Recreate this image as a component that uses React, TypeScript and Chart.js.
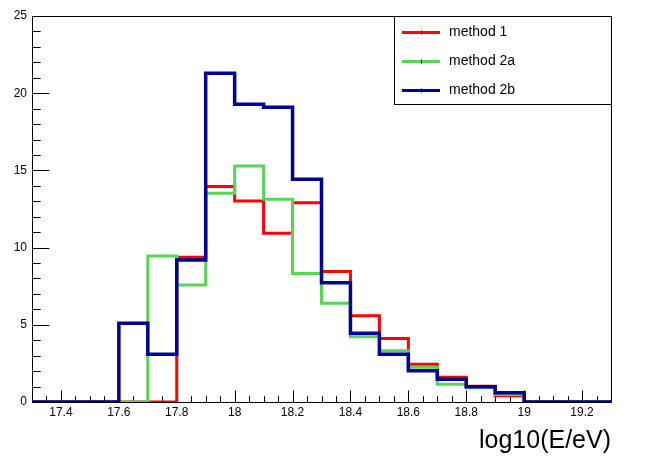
import React, { useEffect, useRef } from 'react';
import { Chart, registerables } from 'chart.js';

Chart.register(...registerables);

// Bin edges of the histograms (log10(E/eV))
const binEdges = [17.3, 17.4, 17.5, 17.6, 17.7, 17.8, 17.9, 18.0, 18.1, 18.2, 18.3, 18.4, 18.5, 18.6, 18.7, 18.8, 18.9, 19.0, 19.1, 19.2, 19.3];

// Bin contents (one per bin, 20 bins)
const method1 = [0, 0, 0, 0, 0, 9.37, 13.95, 13.02, 10.93, 12.91, 8.46, 5.59, 4.12, 2.44, 1.6, 1.02, 0.41, 0, 0, 0];
const method2a = [0, 0, 0, 0, 9.46, 7.58, 13.52, 15.28, 13.13, 8.33, 6.39, 4.23, 3.32, 2.25, 1.15, 0.93, 0.48, 0, 0, 0];
const method2b = [0, 0, 0, 5.1, 3.09, 9.2, 21.29, 19.28, 19.09, 14.42, 7.73, 4.45, 3.09, 2.03, 1.47, 0.99, 0.6, 0, 0, 0];

const seriesLabels = ['method 1', 'method 2a', 'method 2b'];
const seriesColors = ['#ff0000', '#59d454', '#000099'];

const xTickValues = [17.4, 17.6, 17.8, 18, 18.2, 18.4, 18.6, 18.8, 19, 19.2];
const xTickLabels = ['17.4', '17.6', '17.8', '18', '18.2', '18.4', '18.6', '18.8', '19', '19.2'];
const yTickValues = [0, 5, 10, 15, 20, 25];

const xTitle = 'log10(E/eV)';
const FONT = '"Liberation Sans", Arial, Helvetica, sans-serif';

function toSteps(vals: number[]) {
  return binEdges.map((x, i) => ({ x, y: vals[Math.min(i, vals.length - 1)] }));
}

const framePlugin = {
  id: 'rootFrame',
  beforeDatasetsDraw(chart: any) {
    const { ctx, chartArea } = chart;
    const xs = chart.scales.x;
    const ys = chart.scales.y;
    const { left, right, top, bottom } = chartArea;
    ctx.save();
    ctx.strokeStyle = '#000';
    ctx.lineWidth = 1;
    ctx.beginPath();
    ctx.rect(left + 0.5, top + 0.5, right - left, bottom - top);
    ctx.stroke();
    // x ticks (inward)
    const w = right - left;
    const h = bottom - top;
    const xMaj = h * 0.03;
    const yMaj = w * 0.03;
    ctx.beginPath();
    for (let v = xs.min; v <= xs.max + 1e-9; v += 0.05) {
      const r = Math.round(v * 100) / 100;
      const px = Math.round(xs.getPixelForValue(r)) + 0.5;
      const isMaj = xTickValues.some((t) => Math.abs(t - r) < 1e-6);
      const len = isMaj ? xMaj : xMaj / 2;
      ctx.moveTo(px, bottom);
      ctx.lineTo(px, bottom - len);
    }
    for (let v = ys.min; v <= ys.max + 1e-9; v += 1) {
      const py = Math.round(ys.getPixelForValue(v)) + 0.5;
      const isMaj = yTickValues.includes(v);
      const len = isMaj ? yMaj : yMaj / 2;
      ctx.moveTo(left, py);
      ctx.lineTo(left + len, py);
    }
    ctx.stroke();
    ctx.restore();
  },
  afterDraw(chart: any) {
    const { ctx } = chart;
    const bx = 394, by = 16, bw = 217, bh = 88;
    ctx.save();
    ctx.fillStyle = '#fff';
    ctx.fillRect(bx, by, bw, bh);
    ctx.strokeStyle = '#000';
    ctx.lineWidth = 1;
    ctx.strokeRect(bx + 0.5, by + 0.5, bw, bh);
    chart.data.datasets.forEach((ds: any, i: number) => {
      const y = by + 16.5 + i * 29;
      ctx.strokeStyle = ds.borderColor;
      ctx.lineWidth = 3;
      ctx.beginPath();
      ctx.moveTo(402, y);
      ctx.lineTo(440, y);
      ctx.stroke();
      ctx.strokeStyle = '#000';
      ctx.lineWidth = 1;
      ctx.beginPath();
      ctx.moveTo(421.5, y - 2);
      ctx.lineTo(421.5, y + 2);
      ctx.stroke();
      ctx.fillStyle = '#000';
      ctx.font = `14px ${FONT}`;
      ctx.textBaseline = 'middle';
      ctx.textAlign = 'left';
      ctx.fillText(ds.label, 449, y);
    });
    ctx.restore();
  },
};

export default function App() {
  const ref = useRef<HTMLCanvasElement | null>(null);
  useEffect(() => {
    if (!ref.current) return;
    const allSeries = [method1, method2a, method2b];
    const chart = new Chart(ref.current, {
      type: 'line',
      data: {
        datasets: allSeries.map((vals, i) => ({
          label: seriesLabels[i],
          data: toSteps(vals),
          borderColor: seriesColors[i],
          backgroundColor: seriesColors[i],
          borderWidth: i === 2 ? 3.5 : 3,
          stepped: 'before' as const,
          pointRadius: 0,
          fill: false,
          tension: 0,
          borderJoinStyle: 'miter' as const,
          borderCapStyle: 'butt' as const,
          order: 3 - i,
        })),
      },
      options: {
        responsive: false,
        animation: false,
        layout: { padding: { top: 16, right: 37, left: 0, bottom: 0 } },
        plugins: { legend: { display: false }, tooltip: { enabled: false } },
        scales: {
          x: {
            type: 'linear',
            min: 17.3,
            max: 19.3,
            grid: { display: false, drawTicks: false },
            border: { display: false },
            afterBuildTicks: (scale: any) => {
              scale.ticks = xTickValues.map((v) => ({ value: v }));
            },
            afterFit: (scale: any) => {
              scale.height = 55;
            },
            ticks: {
              padding: 3,
              color: '#000',
              maxRotation: 0,
              autoSkip: false,
              font: { family: FONT, size: 12 },
              callback: (v: any) => {
                const idx = xTickValues.findIndex((t) => Math.abs(t - Number(v)) < 1e-6);
                return idx >= 0 ? xTickLabels[idx] : '';
              },
            },
            title: {
              display: true,
              text: xTitle,
              align: 'end',
              color: '#000',
              font: { family: FONT, size: 25 },
              padding: { top: 0, bottom: 1 },
            },
          },
          y: {
            type: 'linear',
            min: 0,
            max: 25,
            grid: { display: false, drawTicks: false },
            border: { display: false },
            afterBuildTicks: (scale: any) => {
              scale.ticks = yTickValues.map((v) => ({ value: v }));
            },
            afterFit: (scale: any) => {
              scale.width = 32;
            },
            ticks: {
              padding: 5,
              color: '#000',
              font: { family: FONT, size: 12 },
              callback: (v: any) => String(v),
            },
          },
        },
      },
      plugins: [framePlugin],
    });
    return () => chart.destroy();
  }, []);
  return (
    <div style={{ position: 'absolute', left: 0, top: 0, width: 648, height: 457, background: '#fff' }}>
      <canvas ref={ref} width={648} height={457} style={{ display: 'block' }} />
    </div>
  );
}
